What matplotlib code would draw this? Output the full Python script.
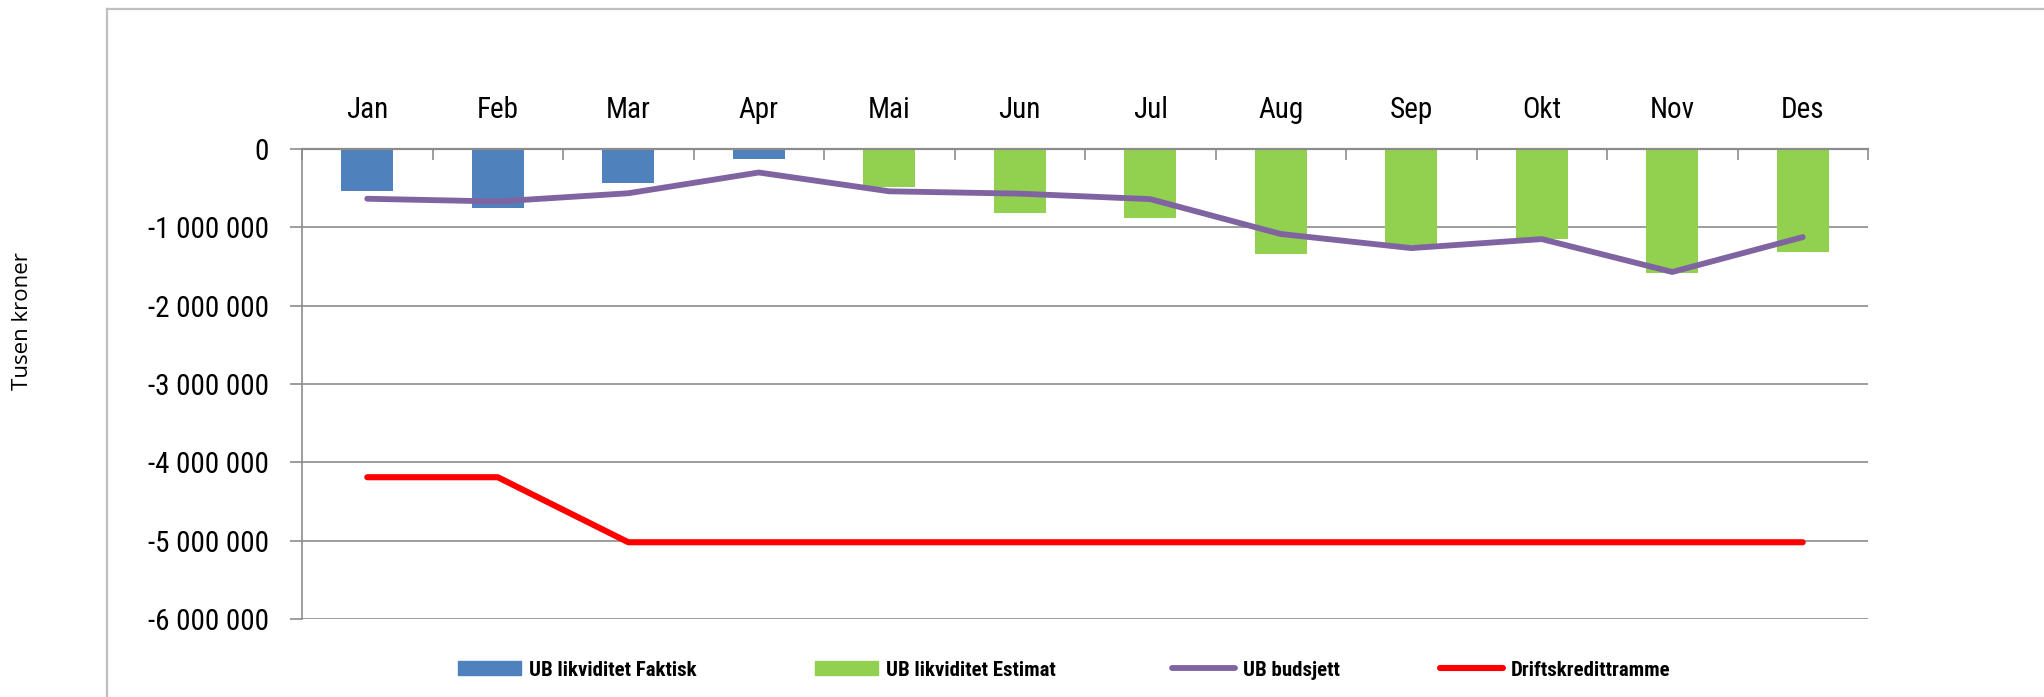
import matplotlib
matplotlib.use("Agg")
import matplotlib.pyplot as plt
from matplotlib import font_manager as fm
from matplotlib.lines import Line2D
from matplotlib.patches import Patch
import numpy as np

months = ["Jan", "Feb", "Mar", "Apr", "Mai", "Jun", "Jul", "Aug", "Sep", "Okt", "Nov", "Des"]
faktisk = [-540000, -755000, -440000, -125000, None, None, None, None, None, None, None, None]
estimat = [None, None, None, None, -480000, -820000, -880000, -1335000, -1230000, -1155000, -1580000, -1315000]
budsjett = [-635000, -670000, -565000, -300000, -540000, -570000, -640000, -1085000, -1265000, -1150000, -1570000, -1125000]
driftskreditt = [-4190000, -4190000, -5020000, -5020000, -5020000, -5020000, -5020000, -5020000, -5020000, -5020000, -5020000, -5020000]
yticks = [0, -1000000, -2000000, -3000000, -4000000, -5000000, -6000000]
yticklabels = ["0", "-1 000 000", "-2 000 000", "-3 000 000", "-4 000 000", "-5 000 000", "-6 000 000"]
series_names = ["UB likviditet Faktisk", "UB likviditet Estimat", "UB budsjett", "Driftskredittramme"]
ylabel = "Tusen kroner"

BLUE = "#4F81BD"
GREEN = "#92D050"
PURPLE = "#8064A2"
RED = "#FF0000"
GRID = "#8C8C8C"

# choose a condensed font if available
entries = fm.fontManager.ttflist
names = {f.name for f in entries}
cond = None
for cand in ["Liberation Sans Narrow", "Roboto Condensed", "Open Sans Condensed", "Noto Sans Condensed"]:
    if cand in names:
        cond = dict(family=[cand, "DejaVu Sans"], stretch="normal")
        break
if cond is None:
    has_dvc = any(f.name == "DejaVu Sans" and f.stretch in ("condensed", "semi-condensed") for f in entries)
    if has_dvc:
        cond = dict(family=["DejaVu Sans"], stretch="condensed")
    else:
        cond = dict(family=["Lato", "DejaVu Sans"], stretch="normal")

W, H = 2044, 697
fig = plt.figure(figsize=(W / 100, H / 100), dpi=100)
ax = fig.add_axes([302 / W, 1 - 619 / H, (1868 - 302) / W, (619 - 149) / H])

x = np.arange(len(months))
fk = np.array([np.nan if v is None else v for v in faktisk], dtype=float)
es = np.array([np.nan if v is None else v for v in estimat], dtype=float)
ax.bar(x, fk, width=0.4, color=BLUE, zorder=3)
ax.bar(x, es, width=0.4, color=GREEN, zorder=3)
ax.plot(x, budsjett, color=PURPLE, lw=4.2, zorder=4, solid_capstyle="round", solid_joinstyle="round")
ax.plot(x, driftskreditt, color=RED, lw=4.4, zorder=4, solid_capstyle="round", solid_joinstyle="round")

ax.set_xlim(-0.5, len(months) - 0.5)
ax.set_ylim(-6000000, 0)
ax.set_yticks(yticks)
ax.set_yticklabels(yticklabels, fontfamily=cond["family"], fontstretch=cond["stretch"], fontsize=21, color="#000000")
ax.yaxis.grid(True, color=GRID, lw=1.2, zorder=0)
ax.tick_params(axis="y", direction="out", length=8.6, width=1.2, color=GRID, pad=15)

ax.xaxis.tick_top()
ax.set_xticks(x)
ax.set_xticklabels(months, fontfamily=cond["family"], fontstretch=cond["stretch"], fontsize=21)
ax.set_xticks(np.arange(-0.5, len(months)), minor=True)
ax.tick_params(axis="x", which="major", length=0, pad=18)
ax.tick_params(axis="x", which="minor", direction="in", length=8, width=1.2, color=GRID, top=True, bottom=False)

for s in ["right", "bottom"]:
    ax.spines[s].set_visible(False)
ax.spines["top"].set_color(GRID)
ax.spines["top"].set_linewidth(1.6)
ax.spines["top"].set_zorder(5)
ax.spines["left"].set_color(GRID)
ax.spines["left"].set_linewidth(1.2)

fig.text(23 / W, 1 - 321 / H, ylabel, rotation=90, ha="center", va="center",
         fontfamily=["Open Sans", "DejaVu Sans"], fontsize=16)

# outer chart frame
fx = 107 / W
fy = 1 - 9 / H
fig.add_artist(Line2D([fx, fx], [0, fy], transform=fig.transFigure, color="#BFBFBF", lw=1.6))
fig.add_artist(Line2D([fx, 1], [fy, fy], transform=fig.transFigure, color="#BFBFBF", lw=1.6))

handles = [Patch(color=BLUE), Patch(color=GREEN),
           Line2D([], [], color=PURPLE, lw=4.2, solid_capstyle="round"),
           Line2D([], [], color=RED, lw=4.4, solid_capstyle="round")]
xs = [458, 815, 1172, 1440]
for h, name, xp in zip(handles, series_names, xs):
    fig.legend([h], [name], loc="center left", bbox_to_anchor=(xp / W, 1 - 670 / H),
               frameon=False, borderpad=0, borderaxespad=0, handlelength=3.0,
               handleheight=0.63, handletextpad=0.4,
               prop={"family": cond["family"], "stretch": cond["stretch"], "size": 15, "weight": "bold"})

fig.savefig("out.png", dpi=100, facecolor="white")
